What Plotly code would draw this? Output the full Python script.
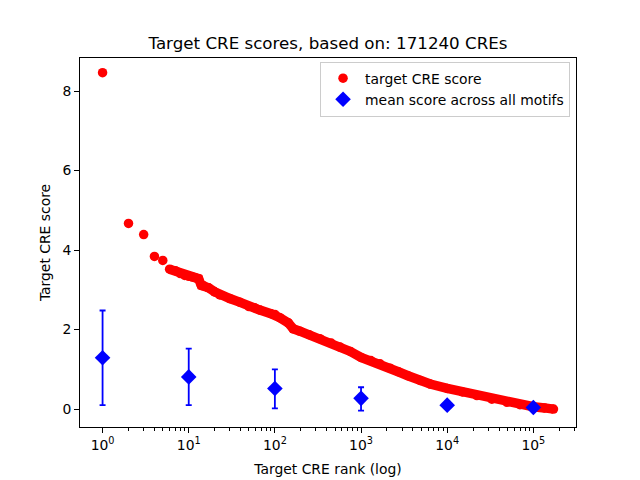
import plotly.graph_objects as go

# Target CRE score by rank
red_rank = [1, 2, 3, 4, 5, 6, 7, 8, 9, 10, 11, 12, 13, 14, 15, 17, 20, 23, 30, 39, 50, 58, 67, 90, 100, 114, 143, 163, 195,
            250, 333, 450, 570, 750, 1000, 1300, 1660, 2170, 2700, 3500, 4850, 6350, 10000, 15000, 22100,
            33000, 49400, 70000, 100000, 135000, 171240]
red_score = [8.46, 4.67, 4.39, 3.84, 3.74, 3.52, 3.48, 3.41, 3.36, 3.34, 3.32, 3.30, 3.28, 3.11, 3.10, 3.05, 2.95, 2.87,
             2.78, 2.69, 2.58, 2.55, 2.49, 2.40, 2.38, 2.30, 2.17, 2.02, 1.96,
             1.87, 1.77, 1.66, 1.56, 1.45, 1.30, 1.22, 1.14, 1.03, 0.94, 0.84, 0.72, 0.63, 0.52, 0.43, 0.34,
             0.25, 0.17, 0.11, 0.06, 0.03, 0.00]

# Mean score across all motifs
blue_rank = [1, 10, 100, 1000, 10000, 100000]
blue_mean = [1.29, 0.81, 0.52, 0.27, 0.10, 0.04]
blue_upper = [2.48, 1.52, 1.00, 0.55, 0.15, 0.07]
blue_lower = [0.10, 0.10, 0.02, -0.04, 0.05, 0.02]

x_tickvals = [1, 10, 100, 1000, 10000, 100000]
x_ticktext = ["10<sup>0</sup>", "10<sup>1</sup>", "10<sup>2</sup>", "10<sup>3</sup>", "10<sup>4</sup>", "10<sup>5</sup>"]
minor_vals = [m * 10 ** e for e in range(0, 6) for m in range(2, 10)]

RED = "#ff0000"
BLUE = "#0000ff"

fig = go.Figure()

# dense band connecting overlapping markers (rank >= 6)
band_x = [r for r in red_rank if r >= 6]
band_y = [s for r, s in zip(red_rank, red_score) if r >= 6]
fig.add_trace(go.Scatter(x=band_x, y=band_y, mode="lines", line=dict(color=RED, width=9.5),
                         showlegend=False, hoverinfo="skip"))
fig.add_trace(go.Scatter(x=red_rank, y=red_score, mode="markers", name="target CRE score",
                         marker=dict(color=RED, size=9.5, line=dict(width=0))))

err_plus = [u - m for u, m in zip(blue_upper, blue_mean)]
err_minus = [m - l for m, l in zip(blue_mean, blue_lower)]
fig.add_trace(go.Scatter(x=blue_rank, y=blue_mean, mode="markers", name="mean score across all motifs",
                         marker=dict(color=BLUE, size=12, symbol="diamond", line=dict(width=0)),
                         error_y=dict(type="data", symmetric=False, array=err_plus, arrayminus=err_minus,
                                      color=BLUE, thickness=1.8, width=3)))

fig.update_layout(
    width=640, height=480,
    margin=dict(l=72, r=72, t=50, b=61),
    paper_bgcolor="white", plot_bgcolor="white",
    font=dict(family="DejaVu Sans", size=13.9, color="black"),
    title=dict(text="Target CRE scores, based on: 171240 CREs", x=0.5, xanchor="center",
               y=1 - 35 / 480, yanchor="middle", font=dict(size=16.7)),
    legend=dict(x=0.988, y=0.99, xanchor="right", yanchor="top", bgcolor="rgba(255,255,255,0.8)",
                bordercolor="#cccccc", borderwidth=1, font=dict(size=13.9), itemwidth=34,
                tracegroupgap=0),
    showlegend=True,
)
fig.update_xaxes(type="log", range=[-0.262, 5.495], tickvals=x_tickvals, ticktext=x_ticktext,
                 ticks="outside", ticklen=5, tickwidth=1, tickcolor="black",
                 minor=dict(tickvals=minor_vals, ticks="outside", ticklen=2.5, tickcolor="black", tickwidth=0.8),
                 showline=True, linecolor="black", linewidth=1, mirror=True, showgrid=False, zeroline=False,
                 title=dict(text="Target CRE rank (log)", font=dict(size=13.9), standoff=12),
                 tickfont=dict(size=13.9))
fig.update_yaxes(range=[-0.45, 8.83], tickvals=[0, 2, 4, 6, 8], ticks="outside", ticklen=5, tickwidth=1,
                 tickcolor="black", showline=True, linecolor="black", linewidth=1, mirror=True,
                 showgrid=False, zeroline=False,
                 title=dict(text="Target CRE score", font=dict(size=13.9), standoff=8),
                 tickfont=dict(size=13.9))

fig.write_html("out.html")
